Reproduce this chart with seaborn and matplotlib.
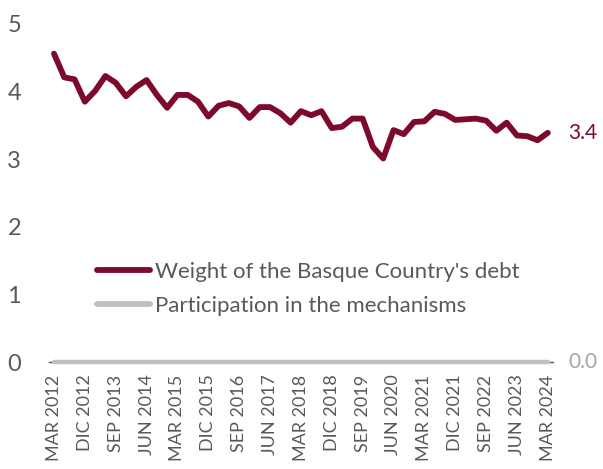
import matplotlib
matplotlib.use("Agg")
import matplotlib.pyplot as plt
import seaborn as sns
import pandas as pd

# Quarter labels (Spanish month abbreviations), Q1 2012 .. Q1 2024
months = ["MAR", "JUN", "SEP", "DIC"]
years = list(range(2012, 2025))
quarters = [f"{m} {y}" for y in years for m in months][:49]

# Weight of the Basque Country's debt (%)
basque_debt = [
    4.56, 4.21, 4.18, 3.85, 4.01, 4.23, 4.13, 3.93, 4.07, 4.17,
    3.95, 3.76, 3.95, 3.95, 3.85, 3.63, 3.79, 3.83, 3.78, 3.61,
    3.77, 3.77, 3.68, 3.54, 3.71, 3.65, 3.71, 3.46, 3.48, 3.60,
    3.60, 3.18, 3.01, 3.43, 3.37, 3.55, 3.56, 3.70, 3.67, 3.58,
    3.59, 3.60, 3.57, 3.42, 3.54, 3.35, 3.34, 3.28, 3.39,
]

# Participation in the liquidity mechanisms (%)
participation = [
    0.0, 0.0, 0.0, 0.0, 0.0, 0.0, 0.0, 0.0, 0.0, 0.0,
    0.0, 0.0, 0.0, 0.0, 0.0, 0.0, 0.0, 0.0, 0.0, 0.0,
    0.0, 0.0, 0.0, 0.0, 0.0, 0.0, 0.0, 0.0, 0.0, 0.0,
    0.0, 0.0, 0.0, 0.0, 0.0, 0.0, 0.0, 0.0, 0.0, 0.0,
    0.0, 0.0, 0.0, 0.0, 0.0, 0.0, 0.0, 0.0, 0.0,
]

series_names = ["Weight of the Basque Country's debt", "Participation in the mechanisms"]
y_ticks = [0, 1, 2, 3, 4, 5]

RED = "#7D0A2B"
GREY = "#BFBFBF"
TEXT = "#595959"

sns.set_theme(style="white")
plt.rcParams["font.family"] = ["Lato", "DejaVu Sans"]

df = pd.DataFrame({
    "pos": list(range(len(quarters))) * 2,
    "value": basque_debt + participation,
    "series": [series_names[0]] * len(basque_debt) + [series_names[1]] * len(participation),
})

fig = plt.figure(figsize=(6.03, 4.69), dpi=100)
ax = fig.add_axes([0.081, 0.228, 0.836, 0.721])

sns.lineplot(
    data=df, x="pos", y="value", hue="series",
    palette={series_names[0]: RED, series_names[1]: GREY},
    hue_order=[series_names[0], series_names[1]],
    linewidth=4.2, ax=ax, zorder=3,
)
for ln in ax.get_lines():
    ln.set_solid_capstyle("round")
    ln.set_solid_joinstyle("round")
    ln.set_clip_on(False)
ax.get_lines()[1].set_linewidth(3.2)

ax.set_xlim(-0.5, len(quarters) - 0.5)
ax.set_ylim(0, 5)
ax.set_yticks(y_ticks)
ax.set_yticklabels([str(v) for v in y_ticks])
ticks = list(range(0, len(quarters), 3))
ax.set_xticks(ticks)
ax.set_xticklabels([quarters[i] for i in ticks], rotation=90)
ax.set_xlabel("")
ax.set_ylabel("")

ax.tick_params(axis="y", length=0, pad=20, labelsize=17, labelcolor=TEXT)
ax.tick_params(axis="x", length=0, pad=9, labelsize=13, labelcolor=TEXT)

for side in ["top", "right", "left"]:
    ax.spines[side].set_visible(False)
ax.spines["bottom"].set_color(TEXT)
ax.spines["bottom"].set_linewidth(1.0)
ax.spines["bottom"].set_zorder(1)

# End-of-series value labels
last = len(quarters) - 1
ax.annotate(f"{basque_debt[-1]:.1f}", xy=(last, basque_debt[-1]), xytext=(15, 0),
            textcoords="offset points", va="center", ha="left",
            color=RED, fontsize=15, annotation_clip=False)
ax.annotate(f"{participation[-1]:.1f}", xy=(last, participation[-1]), xytext=(15, 0),
            textcoords="offset points", va="center", ha="left",
            color="#A6A6A6", fontsize=15, annotation_clip=False)

leg = ax.legend(loc="center left", bbox_to_anchor=(0.095, 0.216), frameon=False,
                fontsize=16, handlelength=2.4, handletextpad=0.2, labelspacing=0.65,
                borderpad=0, borderaxespad=0)
for t in leg.get_texts():
    t.set_color(TEXT)
for h in leg.get_lines():
    h.set_linewidth(4.2)
    h.set_solid_capstyle("round")

fig.savefig("out.png", dpi=100)
